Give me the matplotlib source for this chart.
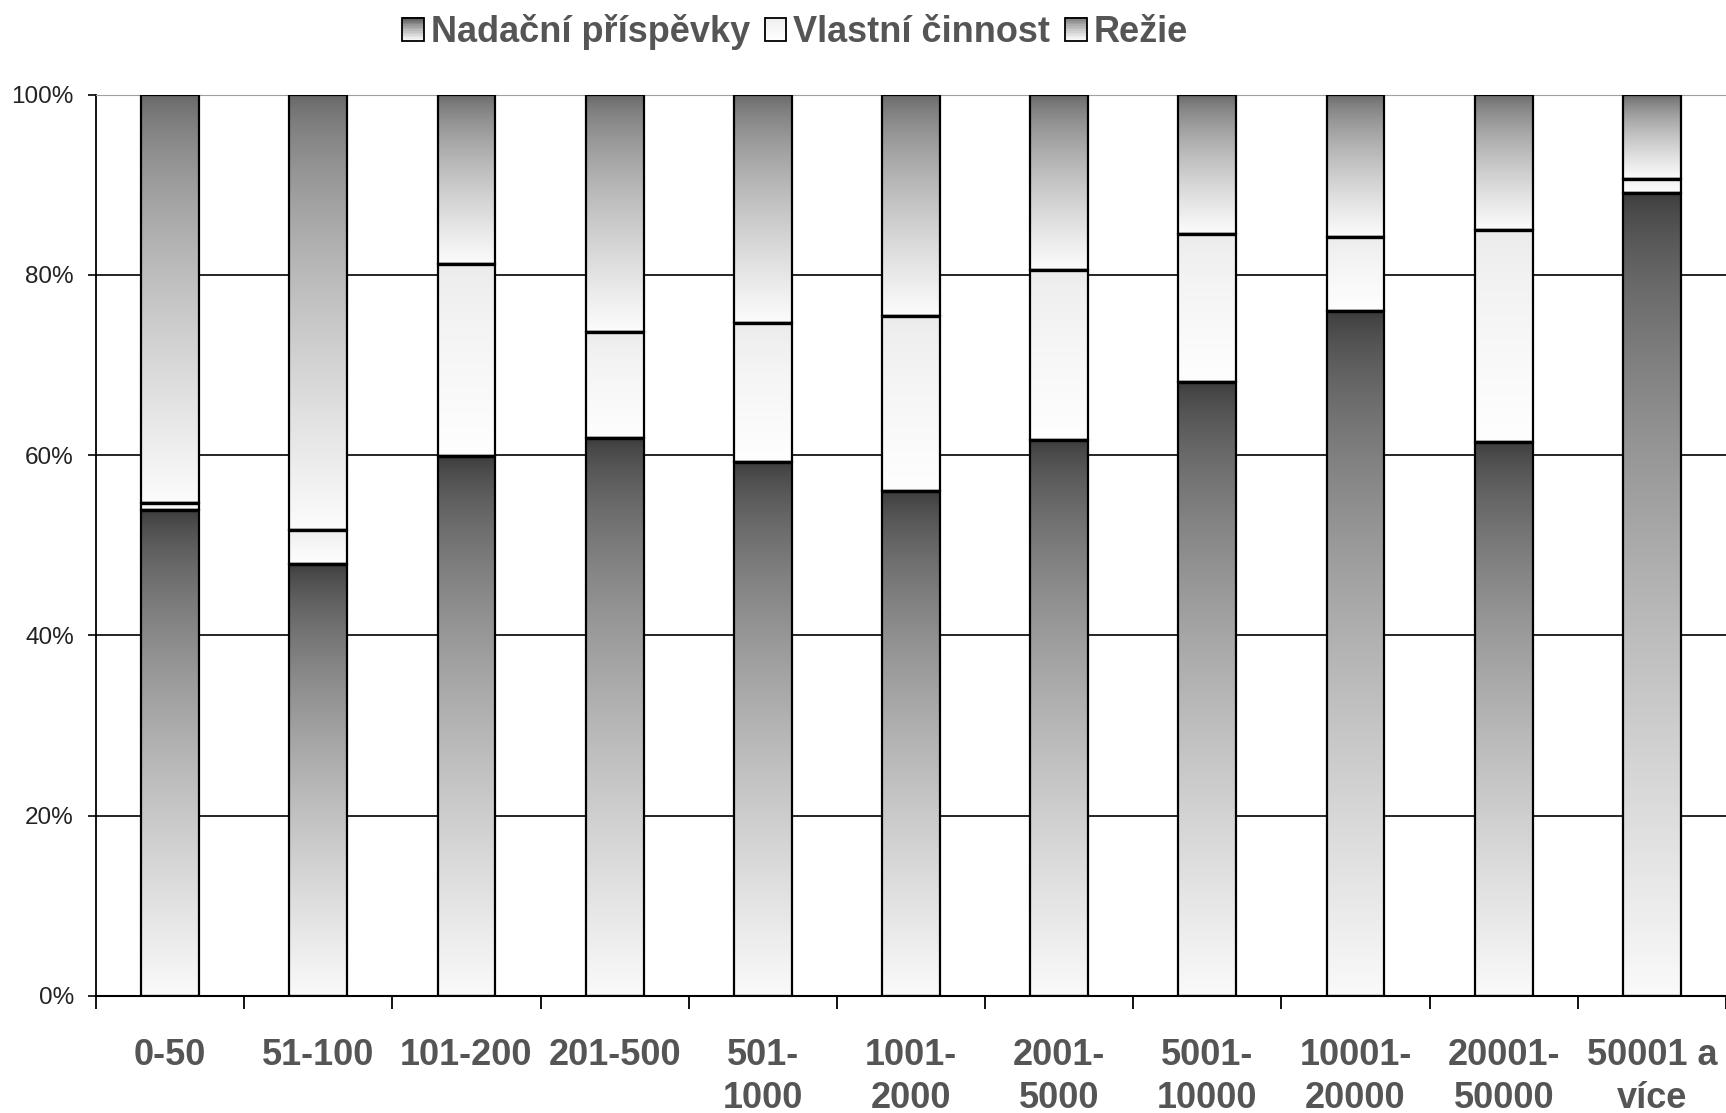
import numpy as np
import matplotlib.pyplot as plt
from matplotlib.patches import Rectangle, Patch
from matplotlib.legend_handler import HandlerBase
from matplotlib.ticker import PercentFormatter
from matplotlib import font_manager

categories = ["0-50", "51-100", "101-200", "201-500", "501-\n1000", "1001-\n2000",
              "2001-\n5000", "5001-\n10000", "10001-\n20000", "20001-\n50000",
              "50001 a\nvíce"]
nadacni = [53.9, 47.9, 59.9, 61.9, 59.3, 56.0, 61.7, 68.1, 76.0, 61.5, 89.1]
vlastni = [0.8, 3.8, 21.3, 11.8, 15.4, 19.4, 18.9, 16.5, 8.2, 23.5, 1.6]
rezie = [45.3, 48.3, 18.8, 26.3, 25.3, 24.6, 19.4, 15.4, 15.8, 15.0, 9.3]
series_names = ["Nadační příspěvky", "Vlastní činnost", "Režie"]

# grey levels (top, bottom) of the gradient fill of each series
SHADES = [(58, 250), (234, 254), (100, 252)]
GAMMA = 0.65
BAR_W = 0.39
TXT = "#555555"

# narrow bold font if there is one, else plain Liberation Sans a bit smaller
installed = {f.name for f in font_manager.fontManager.ttflist}
if "Liberation Sans Narrow" in installed:
    LABEL_FONT, LABEL_SIZE = "Liberation Sans Narrow", 31
else:
    LABEL_FONT, LABEL_SIZE = "Liberation Sans", 26


def gradient(top, bottom, n=256):
    t = np.linspace(0, 1, n)
    g = (top + (bottom - top) * t ** GAMMA)[::-1] / 255.0
    return np.repeat(g[:, None, None], 3, axis=2)


class GradientHandler(HandlerBase):
    def __init__(self, top, bottom):
        super().__init__()
        self.top, self.bottom = top, bottom

    def create_artists(self, legend, orig_handle, xdescent, ydescent,
                       width, height, fontsize, trans):
        n = 14
        arts = []
        for i in range(n):
            t = 1 - (i + 0.5) / n
            g = (self.top + (self.bottom - self.top) * t ** GAMMA) / 255.0
            arts.append(Rectangle((-xdescent, -ydescent + height * i / n),
                                  width, height / n + 0.3, facecolor=(g, g, g),
                                  edgecolor="none", transform=trans))
        arts.append(Rectangle((-xdescent, -ydescent), width, height,
                              facecolor="none", edgecolor="black", lw=1.3,
                              transform=trans))
        return arts


fig = plt.figure(figsize=(17.26, 11.13), dpi=100)
ax = fig.add_axes([96 / 1726, 1 - 996 / 1113, 1 - 96 / 1726, (996 - 94.7) / 1113])

x = np.arange(len(categories))
bottom = np.zeros(len(categories))
for values, (top_c, bot_c) in zip([nadacni, vlastni, rezie], SHADES):
    for xi, b, v in zip(x, bottom, values):
        x0, x1 = xi - BAR_W / 2, xi + BAR_W / 2
        ax.imshow(gradient(top_c, bot_c), extent=(x0, x1, b, b + v),
                  origin="lower", aspect="auto", interpolation="bilinear",
                  zorder=2)
        ax.add_patch(Rectangle((x0, b), BAR_W, v, fill=False,
                               edgecolor="black", lw=1.6, zorder=3))
        if b + v < 99.9:
            ax.hlines(b + v, x0, x1, color="black", lw=2.4, zorder=4)
    bottom += np.array(values)

ax.set_xlim(-0.5, len(categories) - 0.5)
ax.set_ylim(0, 100)

ax.set_yticks(np.arange(0, 101, 20))
ax.yaxis.set_major_formatter(PercentFormatter(decimals=0))
ax.grid(axis="y", color="black", lw=1.2)
ax.yaxis.get_gridlines()[-1].set_color("#a0a0a0")
ax.set_axisbelow(True)

ax.set_xticks(x)
ax.set_xticklabels(categories, family=LABEL_FONT, fontweight="bold",
                   fontsize=LABEL_SIZE, color=TXT, linespacing=1.3)
ax.set_xticks(np.arange(-0.5, len(categories), 1), minor=True)
ax.tick_params(axis="x", which="major", length=0, pad=30)
ax.tick_params(axis="x", which="minor", length=9.5, width=1.3,
               direction="out", color="black")
ax.tick_params(axis="y", length=6, width=1.2, pad=10, labelsize=17.5,
               labelcolor="#222222")
for lab in ax.get_yticklabels():
    lab.set_family("Liberation Sans")

ax.spines["right"].set_visible(False)
ax.spines["top"].set_color("#a0a0a0")
ax.spines["left"].set_linewidth(1.3)
ax.spines["bottom"].set_linewidth(1.5)

handles = [Patch(label=name) for name in series_names]
leg = fig.legend(handles=handles, ncol=3, loc="center",
                 bbox_to_anchor=(795 / 1726, 1 - 32 / 1113), frameon=False,
                 handler_map={h: GradientHandler(*s) for h, s in zip(handles, SHADES)},
                 prop={"family": LABEL_FONT, "weight": "bold", "size": LABEL_SIZE},
                 handlelength=0.6, handleheight=0.6, handletextpad=0.2,
                 columnspacing=0.4, borderpad=0)
for t in leg.get_texts():
    t.set_color(TXT)

fig.savefig("out.png", dpi=100, facecolor="white")
